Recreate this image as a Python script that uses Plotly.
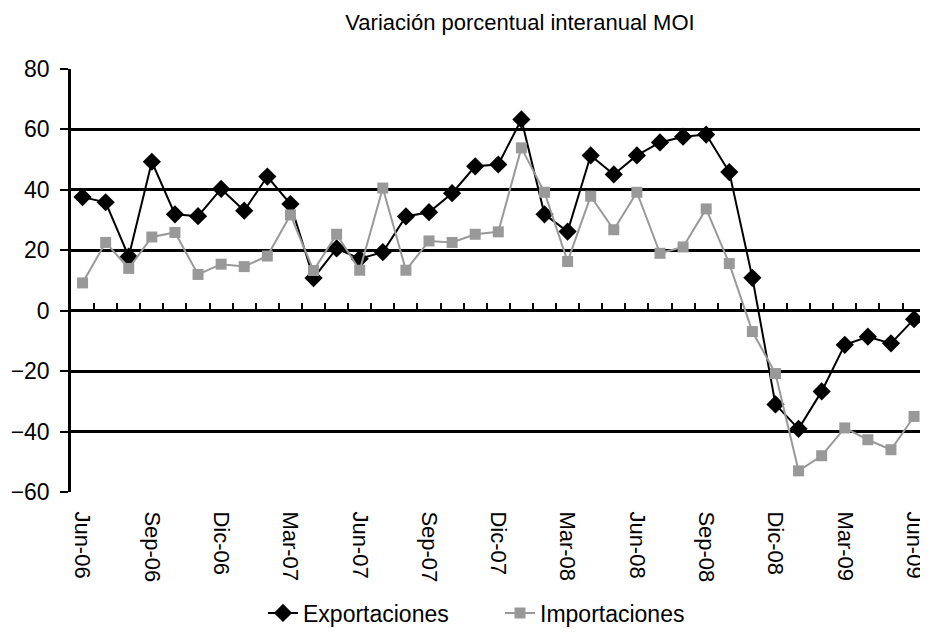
import plotly.graph_objects as go

months = ["Jun-06","Jul-06","Ago-06","Sep-06","Oct-06","Nov-06","Dic-06","Ene-07","Feb-07","Mar-07","Abr-07","May-07",
          "Jun-07","Jul-07","Ago-07","Sep-07","Oct-07","Nov-07","Dic-07","Ene-08","Feb-08","Mar-08","Abr-08","May-08",
          "Jun-08","Jul-08","Ago-08","Sep-08","Oct-08","Nov-08","Dic-08","Ene-09","Feb-09","Mar-09","Abr-09","May-09","Jun-09"]

exportaciones = [37.6, 35.9, 17.9, 49.3, 31.9, 31.3, 40.3, 33.1, 44.4, 35.3, 10.8, 20.6,
                 17.2, 19.4, 31.2, 32.6, 38.9, 47.8, 48.4, 63.3, 31.9, 26.2, 51.4, 45.1,
                 51.4, 55.7, 57.6, 58.3, 45.9, 10.9, -31.0, -39.1, -26.7, -11.3, -8.6, -10.8, -2.8]

importaciones = [9.2, 22.6, 14.0, 24.4, 25.9, 12.0, 15.4, 14.6, 18.1, 31.7, 13.3, 25.3,
                 13.4, 40.6, 13.4, 23.1, 22.6, 25.3, 26.1, 53.9, 39.2, 16.3, 37.9, 26.8,
                 39.2, 19.0, 21.1, 33.7, 15.6, -6.9, -20.8, -53.0, -48.0, -38.8, -42.7, -46.0, -35.0]

tick_labels = ["Jun-06","Sep-06","Dic-06","Mar-07","Jun-07","Sep-07","Dic-07","Mar-08","Jun-08","Sep-08","Dic-08","Mar-09","Jun-09"]

title_text = "Variación porcentual interanual MOI"

x = list(range(len(months)))
tickvals = [months.index(t) for t in tick_labels]
boundaries = [i + 0.5 for i in range(len(months) - 1)]

FONT = "Liberation Sans, Arial, sans-serif"
X_RANGE = [-0.5, 36.95]

fig = go.Figure()
fig.add_trace(go.Scatter(
    x=x, y=exportaciones, name="Exportaciones", mode="lines+markers",
    line=dict(color="#000000", width=2),
    marker=dict(symbol="diamond", size=14, color="#000000"),
    customdata=months,
))
fig.add_trace(go.Scatter(
    x=x, y=importaciones, name="Importaciones", mode="lines+markers",
    line=dict(color="#999999", width=2),
    marker=dict(symbol="square", size=11, color="#999999"),
    customdata=months,
))
# invisible trace to carry the tick marks drawn at the zero line
fig.add_trace(go.Scatter(x=[0], y=[None], xaxis="x2", showlegend=False, hoverinfo="skip"))

fig.update_layout(
    width=928, height=639,
    margin=dict(l=63, r=0, t=61, b=155, autoexpand=False),
    paper_bgcolor="white", plot_bgcolor="white",
    font=dict(family=FONT, color="#000000"),
    title=dict(text=title_text, x=512 / 928, xref="container", xanchor="center",
               y=1 - 14 / 639, yanchor="middle", font=dict(size=22, family=FONT)),
    showlegend=True,
    legend=dict(orientation="h", x=492 / 928, xref="container", xanchor="center",
                y=34 / 639, yref="container", yanchor="middle",
                font=dict(size=23, family=FONT), itemwidth=30, tracegroupgap=0,
                entrywidth=192, entrywidthmode="pixels"),
    xaxis=dict(
        range=X_RANGE, tickmode="array", tickvals=tickvals, ticktext=tick_labels,
        tickangle=90, tickfont=dict(size=22, family=FONT), automargin=False,
        ticks="outside", ticklen=14, tickcolor="rgba(0,0,0,0)",
        ticklabeloverflow="allow",
        showgrid=False, zeroline=False, showline=False,
    ),
    xaxis2=dict(
        range=X_RANGE, overlaying="x", anchor="free", position=60 / 140,
        tickmode="array", tickvals=boundaries, showticklabels=False,
        ticks="inside", ticklen=8, tickwidth=2, tickcolor="#000000",
        showgrid=False, zeroline=False, showline=False,
    ),
    yaxis=dict(
        range=[-60, 80], dtick=20, tick0=0, automargin=False,
        showgrid=True, gridcolor="#000000", gridwidth=3,
        zeroline=False, showline=True, linecolor="#000000", linewidth=2.5,
        ticks="outside", ticklen=8, tickwidth=2, tickcolor="#000000",
        ticklabelstandoff=6,
        tickfont=dict(size=23, family=FONT),
    ),
)

fig.write_html("out.html")
